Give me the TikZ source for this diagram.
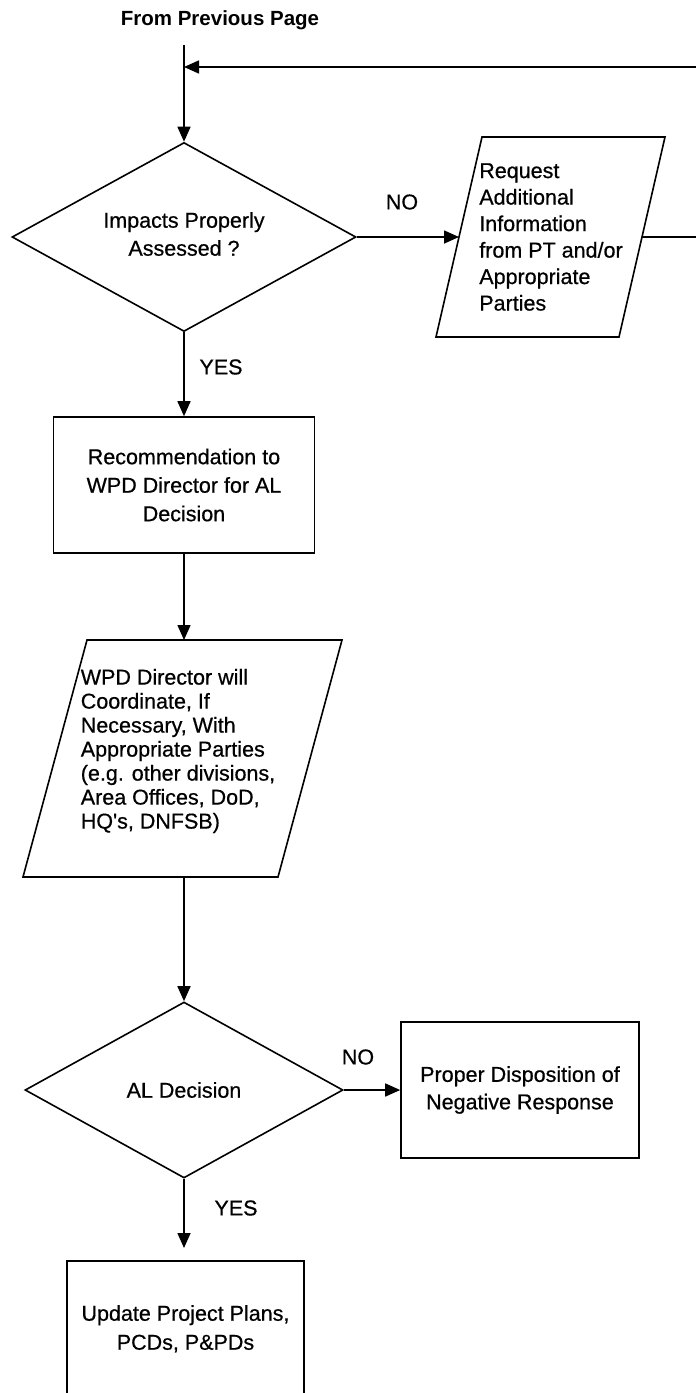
\documentclass[tikz,border=0pt]{standalone}
\usepackage{fontspec}
\setmainfont{Liberation Sans}
\newfontfamily\scanfont[FakeBold=0.6]{Liberation Sans}
\usetikzlibrary{shapes.geometric,arrows.meta}
\begin{document}
\begin{tikzpicture}[x=1pt,y=-1pt,
  every node/.style={font=\scanfont\fontsize{21.5}{26.5}\selectfont},
  ln/.style={line width=1.6pt},
  arr/.style={ln,-{Triangle[length=15pt,width=13pt]}},
  box/.style={draw,ln,rectangle,inner sep=0pt,align=center},
  dec/.style={draw,ln,diamond,inner sep=0pt},
  iotext/.style={inner sep=0pt,align=left},
  lbl/.style={inner sep=0pt}
]
\useasboundingbox (0,0) rectangle (696,1393);

% heading and loop-back points
\node[lbl,font=\bfseries\fontsize{20.5}{24}\selectfont] (hdr) at (220,20) {From Previous Page};
\coordinate (start) at (184,45);
\coordinate (join) at (184,67);
\coordinate (loopR) at (700,67);

% decision 1
\node[dec, minimum width=344pt, minimum height=189pt,
  label={[align=center,yshift=3pt,font=\scanfont\fontsize{21.5}{28}\selectfont]center:Impacts Properly\\Assessed ?}] (d1) at (184,237) {};

% input/output 1 (parallelogram)
\coordinate (p1tl) at (482,137);
\coordinate (p1tr) at (665,137);
\coordinate (p1br) at (619,337);
\coordinate (p1bl) at (436,337);
\coordinate (p1w) at (459,237);
\coordinate (p1e) at (642,237);
\draw[ln] (p1tl) -- (p1tr) -- (p1br) -- (p1bl) -- cycle;
\node[iotext] (p1) at (551,237)
  {Request\\Additional\\Information\\from PT and/or\\Appropriate\\Parties};

% process box
\node[box, minimum width=261pt, minimum height=136pt,
  font=\scanfont\fontsize{21.5}{28.5}\selectfont] (r2) at (184,485)
  {Recommendation to\\WPD Director for AL\\Decision};

% input/output 2 (parallelogram)
\coordinate (p2tl) at (87,640);
\coordinate (p2tr) at (342,640);
\coordinate (p2br) at (278,877);
\coordinate (p2bl) at (23,877);
\coordinate (p2n) at (184,640);
\coordinate (p2s) at (184,877);
\draw[ln] (p2tl) -- (p2tr) -- (p2br) -- (p2bl) -- cycle;
\node[iotext, font=\scanfont\fontsize{21.5}{24}\selectfont] (p2) at (178,751)
  {WPD Director will\\Coordinate, If\\Necessary, With\\Appropriate Parties\\(e.g. other divisions,\\Area Offices, DoD,\\HQ's, DNFSB)};

% decision 2
\node[dec, minimum width=318pt, minimum height=176pt,
  label={center:AL Decision}] (d2) at (184,1090) {};

\node[box, minimum width=238pt, minimum height=136pt,
  font=\scanfont\fontsize{21.5}{27.5}\selectfont] (r4) at (520,1090)
  {Proper Disposition of\\Negative Response};

\node[box, minimum width=237pt, minimum height=136pt, anchor=north,
  font=\scanfont\fontsize{21.5}{29}\selectfont] (r3) at (185.5,1260)
  {Update Project Plans,\\PCDs, P\&PDs};

% labels
\node[lbl] (no1) at (402,202) {NO};
\node[lbl] (yes1) at (221,367) {YES};
\node[lbl] (no2) at (358,1057) {NO};
\node[lbl] (yes2) at (236,1208) {YES};

% connectors
\draw[arr] (start) -- (d1.north);
\draw[arr] (p1e) -| (loopR) -- (join);
\draw[arr] (d1.east) -- (p1w);
\draw[arr] (d1.south) -- (r2.north);
\draw[arr] (r2.south) -- (p2n);
\draw[arr] (p2s) -- (d2.north);
\draw[arr] (d2.east) -- (r4.west);
\draw[arr, shorten >=12pt] (d2.south) -- (d2.south |- r3.north);
\end{tikzpicture}
\end{document}
